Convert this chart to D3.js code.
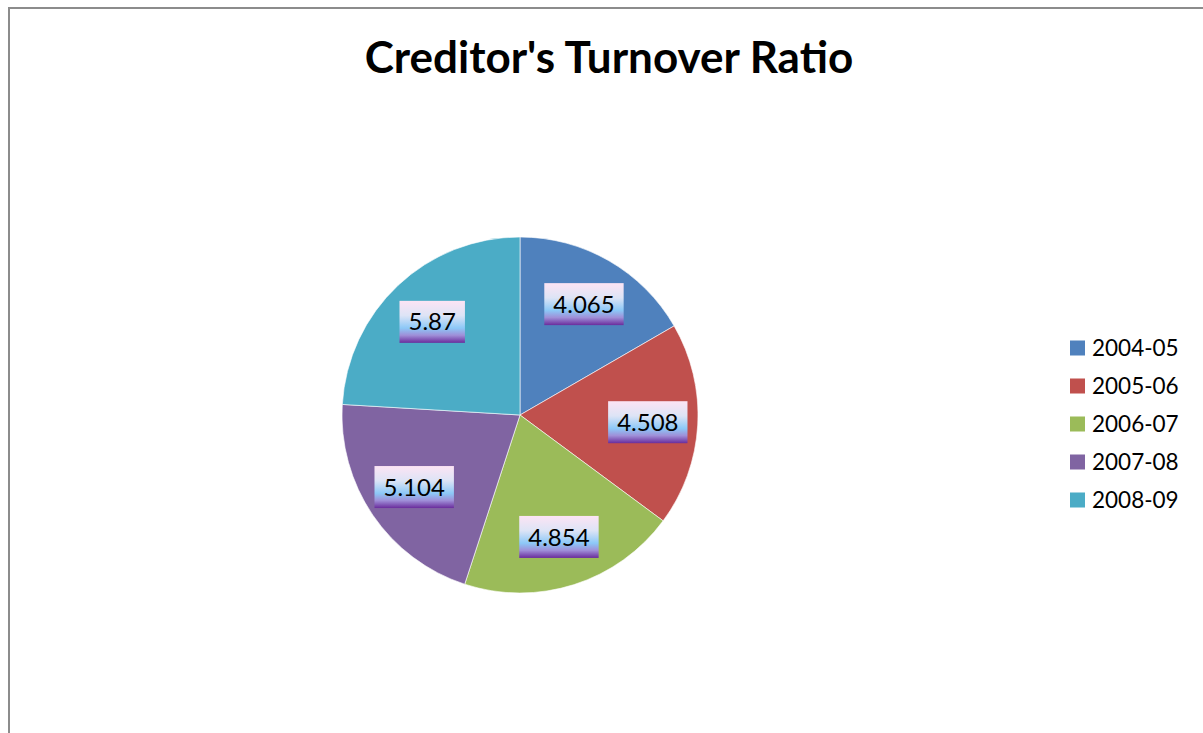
<html lang="en">
<head>
  <meta charset="utf-8" />
  <script src="https://d3js.org/d3.v7.min.js"></script>
  <style>
    body { margin: 0; background: #fff; }
    text { font-family: Lato, "Open Sans", sans-serif; }
  </style>
</head>
<body>
<script>
  // chart values
  var years = ["2004-05", "2005-06", "2006-07", "2007-08", "2008-09"];
  var ratios = [4.065, 4.508, 4.854, 5.104, 5.87];
  var labels = ["4.065", "4.508", "4.854", "5.104", "5.87"];
  var colours = ["#4f81bd", "#c0504d", "#9bbb59", "#8064a2", "#4bacc6"];

  var W = 1203, H = 733;
  var cx = 520, cy = 415, R = 178;

  var svg = d3.select("body").append("svg")
    .attr("width", W).attr("height", H);

  // chart frame (only left and top edges are visible)
  svg.append("rect")
    .attr("x", 9).attr("y", 8)
    .attr("width", W + 20).attr("height", H + 20)
    .attr("fill", "none")
    .attr("stroke", "#8c8c8c")
    .attr("stroke-width", 2);

  svg.append("text")
    .attr("x", 609).attr("y", 73)
    .attr("text-anchor", "middle")
    .attr("font-size", 44)
    .attr("font-weight", "bold")
    .text("Creditor's Turnover Ratio");

  // gradient used for the data label boxes
  var grad = svg.append("defs").append("linearGradient")
    .attr("id", "lblgrad")
    .attr("x1", 0).attr("y1", 0).attr("x2", 0).attr("y2", 1);
  grad.append("stop").attr("offset", "0%").attr("stop-color", "#fce4f4");
  grad.append("stop").attr("offset", "35%").attr("stop-color", "#dde4f6");
  grad.append("stop").attr("offset", "65%").attr("stop-color", "#8cc8f7");
  grad.append("stop").attr("offset", "82%").attr("stop-color", "#9f8fd8");
  grad.append("stop").attr("offset", "100%").attr("stop-color", "#6a2c9c");

  var pie = d3.pie().sort(null).value(function (d) { return d; });
  var arcs = pie(ratios);

  var arc = d3.arc().innerRadius(0).outerRadius(R);
  var labelArc = d3.arc().innerRadius(128).outerRadius(128);

  var g = svg.append("g").attr("transform", "translate(" + cx + "," + cy + ")");

  g.selectAll("path")
    .data(arcs)
    .join("path")
    .attr("d", arc)
    .attr("fill", function (d, i) { return colours[i]; })
    .attr("stroke", "#fff")
    .attr("stroke-width", 0.6);

  var lbl = g.selectAll("g.lbl")
    .data(arcs)
    .join("g")
    .attr("class", "lbl")
    .attr("transform", function (d) {
      var c = labelArc.centroid(d);
      return "translate(" + c[0] + "," + c[1] + ")";
    });

  lbl.append("text")
    .attr("text-anchor", "middle")
    .attr("dy", "0.36em")
    .attr("font-size", 24)
    .attr("fill", "#000")
    .text(function (d, i) { return labels[i]; });

  lbl.each(function () {
    var grp = d3.select(this);
    var bb = grp.select("text").node().getBBox();
    var w = bb.width + 18;
    grp.insert("rect", "text")
      .attr("x", -w / 2).attr("y", -21)
      .attr("width", w).attr("height", 42)
      .attr("fill", "url(#lblgrad)");
  });

  // legend
  var legend = svg.append("g");
  var ly = d3.scalePoint().domain(years).range([348, 500]);

  legend.selectAll("rect")
    .data(years)
    .join("rect")
    .attr("x", 1070)
    .attr("y", function (d) { return ly(d) - 7.5; })
    .attr("width", 15).attr("height", 15)
    .attr("fill", function (d, i) { return colours[i]; });

  legend.selectAll("text")
    .data(years)
    .join("text")
    .attr("x", 1092)
    .attr("y", function (d) { return ly(d); })
    .attr("dy", "0.36em")
    .attr("font-size", 22.5)
    .text(function (d) { return d; });
</script>
</body>
</html>
